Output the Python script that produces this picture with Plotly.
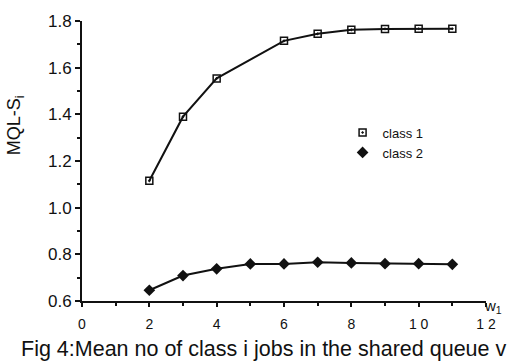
import plotly.graph_objects as go

# Data
class1_x = [2, 3, 4, 6, 7, 8, 9, 10, 11]
class1_y = [1.115, 1.39, 1.554, 1.715, 1.745, 1.762, 1.766, 1.767, 1.767]
class2_x = [2, 3, 4, 5, 6, 7, 8, 9, 10, 11]
class2_y = [0.646, 0.709, 0.738, 0.759, 0.759, 0.766, 0.763, 0.760, 0.760, 0.757]

x_ticks = [0, 2, 4, 6, 8, 10, 12]
x_ticklabels = ["0", "2", "4", "6", "8", "1 0", "1 2"]
y_ticks = [0.6, 0.8, 1.0, 1.2, 1.4, 1.6, 1.8]
y_ticklabels = ["0.6", "0.8", "1.0", "1.2", "1.4", "1.6", "1.8"]

ink = "#111111"
fig = go.Figure()

fig.add_trace(go.Scatter(x=class1_x, y=class1_y, mode="lines", line=dict(color=ink, width=2),
                         showlegend=False, hoverinfo="skip"))
fig.add_trace(go.Scatter(x=class1_x, y=class1_y, mode="markers", name="class 1",
                         marker=dict(symbol="square-open-dot", size=7, color=ink,
                                     line=dict(width=1.5, color=ink))))
fig.add_trace(go.Scatter(x=class2_x, y=class2_y, mode="lines", line=dict(color=ink, width=2),
                         showlegend=False, hoverinfo="skip"))
fig.add_trace(go.Scatter(x=class2_x, y=class2_y, mode="markers", name="class 2",
                         marker=dict(symbol="diamond", size=9, color=ink)))

fig.update_layout(
    width=508, height=362,
    margin=dict(l=82, r=18, t=14, b=61),
    paper_bgcolor="white", plot_bgcolor="white",
    font=dict(family="Liberation Sans, Arial, sans-serif", color=ink),
    showlegend=True,
    legend=dict(x=0.645, y=0.655, xanchor="left", yanchor="top",
                bgcolor="rgba(0,0,0,0)", font=dict(size=13), tracegroupgap=0,
                itemwidth=30),
    xaxis=dict(range=[0, 12], tickmode="array", tickvals=x_ticks, ticktext=x_ticklabels,
               showgrid=False, zeroline=False, showline=True, linecolor=ink, linewidth=2,
               ticks="outside", ticklen=4, tickcolor=ink, tickwidth=1.5,
               tickfont=dict(size=14), ticklabelstandoff=5,
               minor=dict(tickvals=[1, 3, 5, 7, 9, 11], ticks="outside", ticklen=3,
                          tickcolor=ink, tickwidth=1.5)),
    yaxis=dict(range=[0.6, 1.8], tickmode="array", tickvals=y_ticks, ticktext=y_ticklabels,
               showgrid=False, zeroline=False, showline=True, linecolor=ink, linewidth=2,
               ticks="outside", ticklen=5, tickcolor=ink, tickwidth=1.5,
               tickfont=dict(size=17),
               minor=dict(tickvals=[0.7, 0.9, 1.1, 1.3, 1.5, 1.7], ticks="outside", ticklen=3,
                          tickcolor=ink, tickwidth=1.5)),
)

fig.add_annotation(text="MQL-S<sub>i</sub>", xref="paper", yref="paper", x=-0.164, y=0.627,
                   xanchor="center", yanchor="middle", textangle=-90, showarrow=False,
                   font=dict(size=18))
fig.add_annotation(text="w<sub>1</sub>", xref="paper", yref="paper", x=1.0, y=0.0,
                   xanchor="left", yanchor="top", showarrow=False, font=dict(size=15),
                   xshift=-4, yshift=6)
fig.add_annotation(text="Fig 4:Mean no of class i jobs in the shared queue v",
                   xref="paper", yref="paper", x=-0.155, y=-0.12,
                   xanchor="left", yanchor="top", showarrow=False, font=dict(size=21.5))

fig.write_html("out.html")
